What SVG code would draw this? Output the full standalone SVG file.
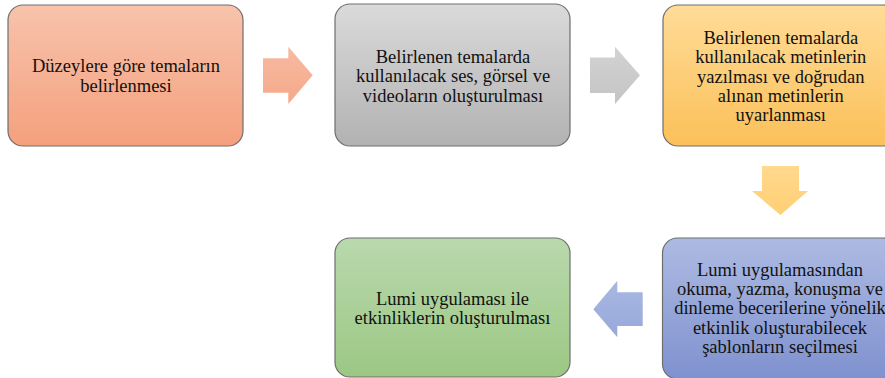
<svg xmlns="http://www.w3.org/2000/svg" width="885" height="378" viewBox="0 0 885 378">
<defs>
<linearGradient id="gOrange" x1="0" y1="0" x2="0" y2="1"><stop offset="0" stop-color="#F8C3AC"/><stop offset="1" stop-color="#F4A07D"/></linearGradient>
<linearGradient id="gGray" x1="0" y1="0" x2="0" y2="1"><stop offset="0" stop-color="#DADADA"/><stop offset="1" stop-color="#B2B2B2"/></linearGradient>
<linearGradient id="gGold" x1="0" y1="0" x2="0" y2="1"><stop offset="0" stop-color="#FFDC98"/><stop offset="1" stop-color="#FBC059"/></linearGradient>
<linearGradient id="gBlue" x1="0" y1="0" x2="0" y2="1"><stop offset="0" stop-color="#ADBBE2"/><stop offset="1" stop-color="#7F91CF"/></linearGradient>
<linearGradient id="gGreen" x1="0" y1="0" x2="0" y2="1"><stop offset="0" stop-color="#B9D9AD"/><stop offset="1" stop-color="#9CC784"/></linearGradient>
<linearGradient id="aOrange" x1="0" y1="0" x2="0" y2="1"><stop offset="0" stop-color="#F7BBA2"/><stop offset="1" stop-color="#F5A888"/></linearGradient>
<linearGradient id="aGray" x1="0" y1="0" x2="0" y2="1"><stop offset="0" stop-color="#D3D3D3"/><stop offset="1" stop-color="#C4C4C4"/></linearGradient>
<linearGradient id="aGold" x1="0" y1="0" x2="0" y2="1"><stop offset="0" stop-color="#FFD98F"/><stop offset="1" stop-color="#FFCF73"/></linearGradient>
<linearGradient id="aBlue" x1="0" y1="0" x2="0" y2="1"><stop offset="0" stop-color="#A9B8E2"/><stop offset="1" stop-color="#97A8DA"/></linearGradient>
</defs>
<style>
.box{stroke:#6E6E6E;stroke-width:1.2}
.t{font-family:'Liberation Serif','Times New Roman',serif;font-size:18.5px;fill:#111;text-anchor:middle}
</style>
<g id="connectors">
<polygon id="arrow1" points="263,58.3 288.3,58.3 288.3,46.7 312.7,75.3 288.3,104 288.3,92.7 263,92.7" fill="url(#aOrange)"/>
<polygon id="arrow2" points="590,57.5 615,57.5 615,46.7 640,75.3 615,104 615,93 590,93" fill="url(#aGray)"/>
<polygon id="arrow3" points="762,166 799,166 799,191 808,191 780.5,215 752,191 762,191" fill="url(#aGold)"/>
<polygon id="arrow4" points="642.7,292.3 617.3,292.3 617.3,280.7 593.3,309.3 617.3,337.3 617.3,326 642.7,326" fill="url(#aBlue)"/>
</g>
<g id="node1">
<rect class="box" x="8" y="5" width="235" height="141" rx="15" fill="url(#gOrange)"/>
<g class="t">
<text x="126" y="72">Düzeylere göre temaların</text>
<text x="126" y="91.5">belirlenmesi</text>
</g>
</g>
<g id="node2">
<rect class="box" x="335" y="4" width="235" height="142" rx="15" fill="url(#gGray)"/>
<g class="t">
<text x="453" y="62.7">Belirlenen temalarda</text>
<text x="453" y="82.3">kullanılacak ses, görsel ve</text>
<text x="453" y="101.7">videoların oluşturulması</text>
</g>
</g>
<g id="node3">
<rect class="box" x="663" y="5" width="235" height="141" rx="15" fill="url(#gGold)"/>
<g class="t">
<text x="780.8" y="44">Belirlenen temalarda</text>
<text x="780.8" y="63.3">kullanılacak metinlerin</text>
<text x="780.8" y="82.7">yazılması ve doğrudan</text>
<text x="780.8" y="101.7">alınan metinlerin</text>
<text x="780.8" y="121">uyarlanması</text>
</g>
</g>
<g id="node4">
<rect class="box" x="662.5" y="238" width="235" height="141" rx="15" fill="url(#gBlue)"/>
<g class="t">
<text x="780" y="275.5">Lumi uygulamasından</text>
<text x="780" y="295">okuma, yazma, konuşma ve</text>
<text x="780" y="314.3">dinleme becerilerine yönelik</text>
<text x="780" y="333.8">etkinlik oluşturabilecek</text>
<text x="780" y="353.3">şablonların seçilmesi</text>
</g>
</g>
<g id="node5">
<rect class="box" x="335" y="238" width="235" height="139" rx="15" fill="url(#gGreen)"/>
<g class="t">
<text x="452.5" y="305">Lumi uygulaması ile</text>
<text x="452.5" y="324.3">etkinliklerin oluşturulması</text>
</g>
</g>
</svg>
